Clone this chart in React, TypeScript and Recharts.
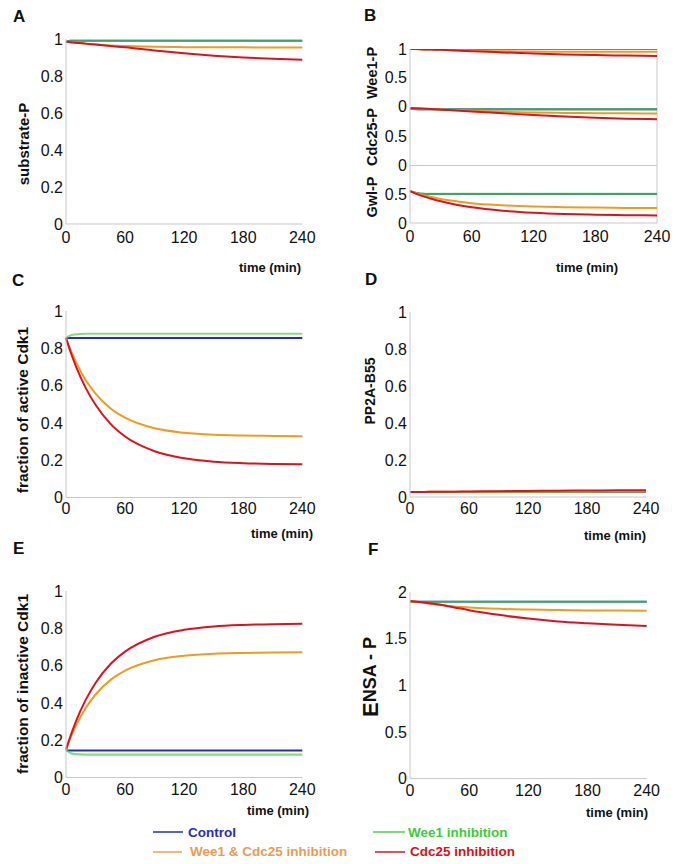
import React from 'react';
import { LineChart, Line, XAxis, YAxis, ReferenceLine } from 'recharts';

// ---------- data ----------
const TIME = [0, 5, 10, 20, 30, 45, 60, 90, 120, 150, 180, 210, 240];
const X_TICKS = [0, 60, 120, 180, 240];

// A: substrate-P
const aBlue = [0.985, 0.99, 0.99, 0.99, 0.99, 0.99, 0.99, 0.99, 0.99, 0.99, 0.99, 0.99, 0.99];
const aGreen = [0.985, 0.99, 0.99, 0.99, 0.99, 0.99, 0.99, 0.99, 0.99, 0.99, 0.99, 0.99, 0.99];
const aOrange = [0.985, 0.983, 0.98, 0.975, 0.97, 0.965, 0.962, 0.958, 0.956, 0.955, 0.955, 0.954, 0.954];
const aRed = [0.985, 0.983, 0.98, 0.975, 0.97, 0.962, 0.955, 0.938, 0.923, 0.91, 0.9, 0.893, 0.888];

// B: Wee1-P
const wBlue = [1, 1, 1, 1, 1, 1, 1, 1, 1, 1, 1, 1, 1];
const wGreen = [1, 1, 1, 1, 1, 1, 1, 1, 1, 1, 1, 1, 1];
const wOrange = [1, 0.998, 0.995, 0.99, 0.985, 0.977, 0.97, 0.96, 0.955, 0.952, 0.951, 0.95, 0.95];
const wRed = [1, 0.998, 0.995, 0.99, 0.985, 0.975, 0.962, 0.94, 0.92, 0.905, 0.893, 0.885, 0.878];
// B: Cdc25-P
const cBlue = [0.98, 0.965, 0.96, 0.96, 0.96, 0.96, 0.96, 0.96, 0.96, 0.96, 0.96, 0.96, 0.96];
const cGreen = [0.98, 0.965, 0.96, 0.96, 0.96, 0.96, 0.96, 0.96, 0.96, 0.96, 0.96, 0.96, 0.96];
const cOrange = [0.98, 0.977, 0.973, 0.965, 0.957, 0.945, 0.935, 0.918, 0.906, 0.898, 0.894, 0.892, 0.89];
const cRed = [0.98, 0.977, 0.973, 0.965, 0.955, 0.94, 0.925, 0.893, 0.862, 0.837, 0.817, 0.801, 0.79];
// B: Gwl-P
const gBlue = [0.56, 0.53, 0.515, 0.51, 0.51, 0.51, 0.51, 0.51, 0.51, 0.51, 0.51, 0.51, 0.51];
const gGreen = [0.56, 0.53, 0.515, 0.51, 0.51, 0.51, 0.51, 0.51, 0.51, 0.51, 0.51, 0.51, 0.51];
const gOrange = [0.56, 0.53, 0.5, 0.46, 0.42, 0.38, 0.345, 0.31, 0.29, 0.278, 0.27, 0.265, 0.262];
const gRed = [0.56, 0.52, 0.485, 0.43, 0.38, 0.32, 0.275, 0.215, 0.18, 0.158, 0.145, 0.137, 0.132];

// C: fraction of active Cdk1
const actBlue = [0.855, 0.855, 0.855, 0.855, 0.855, 0.855, 0.855, 0.855, 0.855, 0.855, 0.855, 0.855, 0.855];
const actGreen = [0.855, 0.87, 0.875, 0.878, 0.878, 0.878, 0.878, 0.878, 0.878, 0.878, 0.878, 0.878, 0.878];
const actOrange = [0.855, 0.787, 0.727, 0.63, 0.557, 0.479, 0.428, 0.371, 0.347, 0.336, 0.332, 0.33, 0.328];
const actRed = [0.855, 0.775, 0.705, 0.588, 0.497, 0.396, 0.327, 0.248, 0.21, 0.192, 0.184, 0.18, 0.178];

// D: PP2A-B55
const ppBlue = [0.027, 0.027, 0.027, 0.027, 0.027, 0.027, 0.027, 0.027, 0.027, 0.027, 0.027, 0.027, 0.027];
const ppGreen = [0.027, 0.027, 0.027, 0.027, 0.027, 0.027, 0.027, 0.027, 0.027, 0.027, 0.027, 0.027, 0.027];
const ppOrange = [0.027, 0.027, 0.027, 0.028, 0.028, 0.028, 0.029, 0.029, 0.03, 0.03, 0.03, 0.031, 0.031];
const ppRed = [0.027, 0.027, 0.027, 0.028, 0.028, 0.029, 0.03, 0.031, 0.033, 0.034, 0.035, 0.036, 0.037];

// E: fraction of inactive Cdk1
const inBlue = [0.145, 0.145, 0.145, 0.145, 0.145, 0.145, 0.145, 0.145, 0.145, 0.145, 0.145, 0.145, 0.145];
const inGreen = [0.15, 0.13, 0.125, 0.123, 0.123, 0.123, 0.123, 0.123, 0.123, 0.123, 0.123, 0.123, 0.123];
const inOrange = [0.15, 0.218, 0.277, 0.373, 0.445, 0.522, 0.573, 0.629, 0.653, 0.664, 0.668, 0.67, 0.671];
const inRed = [0.15, 0.229, 0.3, 0.416, 0.507, 0.607, 0.675, 0.755, 0.792, 0.81, 0.818, 0.822, 0.824];

// F: ENSA-P
const eBlue = [1.9, 1.895, 1.895, 1.895, 1.895, 1.895, 1.895, 1.895, 1.895, 1.895, 1.895, 1.895, 1.895];
const eGreen = [1.9, 1.895, 1.895, 1.895, 1.895, 1.895, 1.895, 1.895, 1.895, 1.895, 1.895, 1.895, 1.895];
const eOrange = [1.9, 1.895, 1.89, 1.875, 1.86, 1.845, 1.835, 1.82, 1.812, 1.806, 1.803, 1.801, 1.8];
const eRed = [1.9, 1.898, 1.893, 1.88, 1.865, 1.835, 1.805, 1.755, 1.715, 1.685, 1.665, 1.648, 1.635];

const Y01 = [0, 0.2, 0.4, 0.6, 0.8, 1];
const YB_TOP = [0, 0.5, 1];
const YB_LOW = [0, 0.5];
const YF = [0, 0.5, 1, 1.5, 2];

const LEGEND = [
  { name: 'Control', color: '#1f2fc0', text: '#2a2ac8' },
  { name: 'Wee1 inhibition', color: '#4ed04e', text: '#3ccc3c' },
  { name: 'Wee1 & Cdc25 inhibition', color: '#f0a050', text: '#ee9a55' },
  { name: 'Cdc25 inhibition', color: '#e01020', text: '#dd1010' },
];

// ---------- styling ----------
const C_BLUE = '#1f2fc0';
const C_GREEN = '#4ed04e';
const C_ORANGE = '#f39a1e';
const C_RED = '#e01020';
const AXIS = '#c8c8c8';
const FONT = '"Liberation Sans", Arial, Helvetica, sans-serif';
const PADL = 50, PADR = 14, PADT = 8, PADB = 30;

function rows(b: number[], g: number[], o: number[], r: number[]) {
  return TIME.map((t, i) => ({ t, blue: b[i], green: g[i], orange: o[i], red: r[i] }));
}

type PanelProps = {
  x0: number; x1: number; y0: number; y1: number;
  domain: [number, number]; yTicks: number[]; data: any[];
  showX?: boolean; xLine?: boolean; xGap?: number; rightBorder?: boolean;
};

function Panel(p: PanelProps) {
  const w = p.x1 - p.x0 + PADL + PADR;
  const h = p.y1 - p.y0 + PADT + PADB;
  const tickStyle = { fill: '#111', fontSize: 16, fontFamily: FONT };
  return (
    <div style={{ position: 'absolute', left: p.x0 - PADL, top: p.y0 - PADT }}>
      <LineChart width={w} height={h} data={p.data} margin={{ top: PADT, right: PADR, left: 0, bottom: 0 }}>
        <XAxis
          dataKey="t" type="number" domain={[0, 240]} ticks={X_TICKS} height={PADB}
          axisLine={p.xLine === false ? false : { stroke: AXIS }} tickLine={false} tickSize={0}
          tick={p.showX === false ? false : tickStyle} tickMargin={p.xGap ?? 6} interval={0}
        />
        <YAxis
          type="number" domain={p.domain} ticks={p.yTicks} width={PADL}
          axisLine={{ stroke: AXIS }} tickLine={false} tickSize={0}
          tick={tickStyle} tickMargin={3} interval={0} allowDataOverflow
        />
        {p.rightBorder && <ReferenceLine x={240} stroke={AXIS} />}
        <Line dataKey="blue" type="monotone" stroke={C_BLUE} strokeWidth={2} dot={false} isAnimationActive={false} />
        <Line dataKey="green" type="monotone" stroke={C_GREEN} strokeOpacity={0.7} strokeWidth={2.2} dot={false} isAnimationActive={false} />
        <Line dataKey="orange" type="monotone" stroke={C_ORANGE} strokeWidth={2} dot={false} isAnimationActive={false} />
        <Line dataKey="red" type="monotone" stroke={C_RED} strokeWidth={2} dot={false} isAnimationActive={false} />
      </LineChart>
    </div>
  );
}

const bold = { fontFamily: FONT, fontWeight: 700 as const, fill: '#111' };

function VLabel({ x, y, size, children }: { x: number; y: number; size: number; children: React.ReactNode }) {
  return (
    <text x={x} y={y} transform={`rotate(-90 ${x} ${y})`} textAnchor="middle" dominantBaseline="central" fontSize={size} {...bold}>
      {children}
    </text>
  );
}

function TimeLabel({ x, y }: { x: number; y: number }) {
  return (
    <text x={x} y={y} textAnchor="middle" dominantBaseline="central" fontSize={13} {...bold}>time (min)</text>
  );
}

export default function App() {
  return (
    <div style={{ position: 'absolute', left: 0, top: 0, width: 676, height: 864, background: '#fff', overflow: 'hidden' }}>
      {/* A */}
      <Panel x0={65.7} x1={302} y0={39} y1={224} domain={[0, 1]} yTicks={Y01} data={rows(aBlue, aGreen, aOrange, aRed)} xGap={7.5} />
      {/* B */}
      <Panel x0={410} x1={657} y0={49} y1={106} domain={[0, 1]} yTicks={YB_TOP} data={rows(wBlue, wGreen, wOrange, wRed)} showX={false} xLine={false} rightBorder />
      <Panel x0={410} x1={657} y0={106.5} y1={165} domain={[0, 1]} yTicks={YB_LOW} data={rows(cBlue, cGreen, cOrange, cRed)} showX={false} rightBorder />
      <Panel x0={410} x1={657} y0={166} y1={223} domain={[0, 1]} yTicks={YB_LOW} data={rows(gBlue, gGreen, gOrange, gRed)} xGap={8} rightBorder />
      {/* C */}
      <Panel x0={65.7} x1={302} y0={310.5} y1={497} domain={[0, 1]} yTicks={Y01} data={rows(actBlue, actGreen, actOrange, actRed)} xGap={5} />
      {/* D */}
      <Panel x0={410} x1={646} y0={311.7} y1={496.7} domain={[0, 1]} yTicks={Y01} data={rows(ppBlue, ppGreen, ppOrange, ppRed)} xGap={6} />
      {/* E */}
      <Panel x0={65.7} x1={302} y0={590.5} y1={777} domain={[0, 1]} yTicks={Y01} data={rows(inBlue, inGreen, inOrange, inRed)} xGap={6.5} />
      {/* F */}
      <Panel x0={410.3} x1={647} y0={591.7} y1={778.3} domain={[0, 2]} yTicks={YF} data={rows(eBlue, eGreen, eOrange, eRed)} xGap={6.5} />

      <svg width={676} height={864} style={{ position: 'absolute', left: 0, top: 0, pointerEvents: 'none' }}>
        {/* panel letters */}
        <text x={13} y={22} fontSize={17} {...bold}>A</text>
        <text x={364} y={21} fontSize={17} {...bold}>B</text>
        <text x={12} y={286} fontSize={17} {...bold}>C</text>
        <text x={365} y={285} fontSize={17} {...bold}>D</text>
        <text x={13} y={554} fontSize={17} {...bold}>E</text>
        <text x={368} y={555} fontSize={17} {...bold}>F</text>

        {/* axis titles */}
        <VLabel x={23} y={144} size={15}>substrate-P</VLabel>
        <VLabel x={372} y={73} size={14.5}>Wee1-P</VLabel>
        <VLabel x={372} y={137} size={14.5}>Cdc25-P</VLabel>
        <VLabel x={372} y={197} size={14.5}>Gwl-P</VLabel>
        <VLabel x={22} y={410} size={15.5}>fraction of active Cdk1</VLabel>
        <VLabel x={370} y={391} size={14}>PP2A-B55</VLabel>
        <VLabel x={22} y={684} size={15.5}>fraction of inactive Cdk1</VLabel>
        <text x={370} y={677} transform="rotate(-90 370 677)" textAnchor="middle" dominantBaseline="central" {...bold}>
          <tspan fontSize={22}>E</tspan><tspan fontSize={18}>NSA - P</tspan>
        </text>

        {/* time labels */}
        <TimeLabel x={270} y={267} />
        <TimeLabel x={587} y={267} />
        <TimeLabel x={282} y={533} />
        <TimeLabel x={615} y={535} />
        <TimeLabel x={278} y={810} />
        <TimeLabel x={617} y={812} />

        {/* legend */}
        <line x1={153} x2={183} y1={832} y2={832} stroke={LEGEND[0].color} strokeWidth={1.5} />
        <text x={188} y={832} dominantBaseline="central" fontSize={13.5} fontFamily={FONT} fontWeight={700} fill={LEGEND[0].text}>{LEGEND[0].name}</text>
        <line x1={373} x2={405} y1={832} y2={832} stroke={LEGEND[1].color} strokeWidth={1.5} />
        <text x={408} y={832} dominantBaseline="central" fontSize={13.5} fontFamily={FONT} fontWeight={700} fill={LEGEND[1].text}>{LEGEND[1].name}</text>
        <line x1={153} x2={182} y1={852} y2={852} stroke={LEGEND[2].color} strokeWidth={1.5} />
        <text x={190} y={851} dominantBaseline="central" fontSize={13.5} fontFamily={FONT} fontWeight={700} fill={LEGEND[2].text}>{LEGEND[2].name}</text>
        <line x1={375} x2={405} y1={852} y2={852} stroke={LEGEND[3].color} strokeWidth={1.5} />
        <text x={410} y={851} dominantBaseline="central" fontSize={13.5} fontFamily={FONT} fontWeight={700} fill={LEGEND[3].text}>{LEGEND[3].name}</text>
      </svg>
    </div>
  );
}
